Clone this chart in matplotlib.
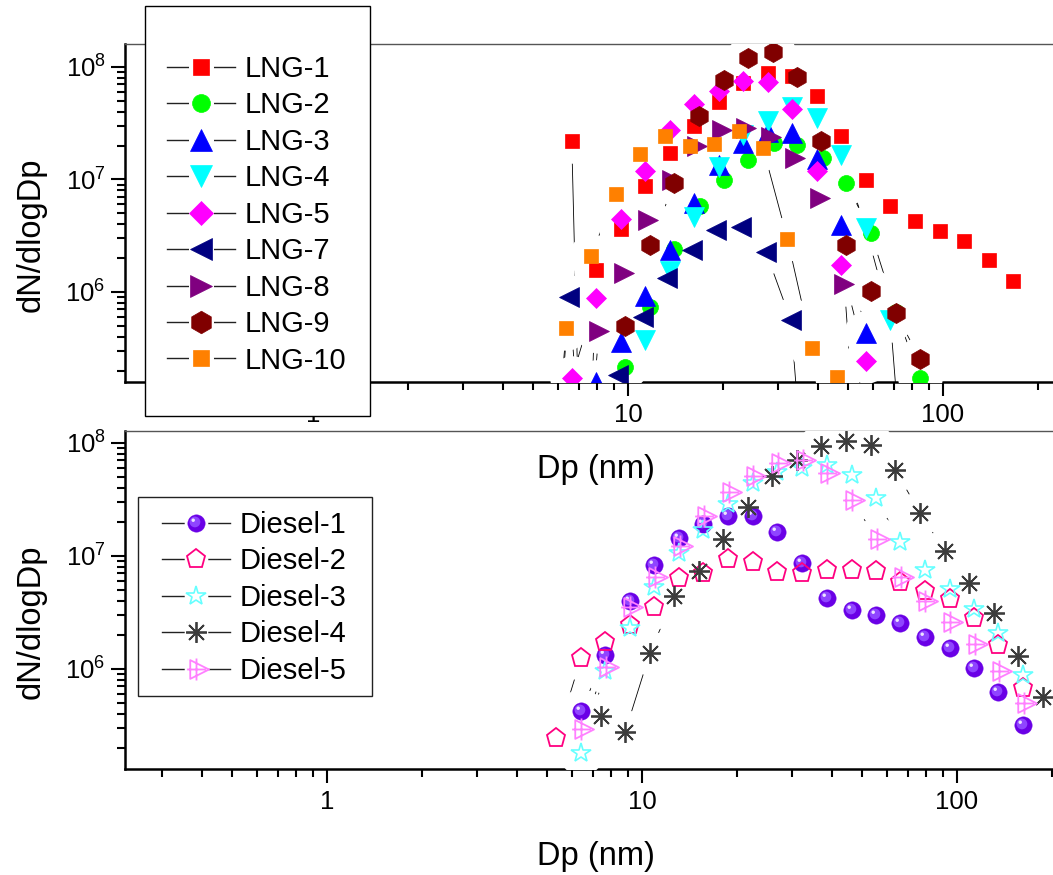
import numpy as np
import matplotlib
matplotlib.use('Agg')
import matplotlib.pyplot as plt
from matplotlib.lines import Line2D
from matplotlib.legend_handler import HandlerTuple
from matplotlib.patches import Rectangle
from matplotlib.path import Path
from matplotlib.ticker import LogLocator, NullFormatter, FuncFormatter

plt.rcParams['font.family'] = ['Liberation Sans', 'DejaVu Sans']
plt.rcParams['mathtext.fontset'] = 'custom'
plt.rcParams['mathtext.rm'] = 'Liberation Sans'
plt.rcParams['mathtext.it'] = 'Liberation Sans:italic'
plt.rcParams['mathtext.bf'] = 'Liberation Sans:bold'

# ---------------- data: LNG (top panel) ----------------
lng1_dp = [6.63, 7.25, 7.93, 9.48, 11.32, 13.56, 16.24, 19.41, 23.23, 27.8, 33.24, 39.8, 47.6, 56.9, 68.1, 81.5, 97.5, 116.9, 140.0, 167.4]
lng1_n = [2.21e7, 1e3, 1.57e6, 3.63e6, 8.8e6, 1.72e7, 3.0e7, 4.92e7, 7.16e7, 8.8e7, 8.3e7, 5.5e7, 2.45e7, 9.9e6, 5.85e6, 4.25e6, 3.46e6, 2.82e6, 1.91e6, 1.24e6]

lng2_dp = [9.80, 11.75, 14.03, 16.93, 20.15, 24.04, 28.98, 34.5, 41.5, 49.4, 59.1, 70.8, 84.7]
lng2_n = [2.17e5, 7.31e5, 2.43e6, 5.8e6, 9.9e6, 1.49e7, 2.12e7, 2.03e7, 1.56e7, 9.4e6, 3.32e6, 6.68e5, 1.73e5]

lng3_dp = [7.93, 9.48, 11.32, 13.56, 16.24, 19.41, 23.23, 27.8, 33.24, 39.8, 47.6, 56.9, 68.1]
lng3_n = [1.6e5, 3.56e5, 9.3e5, 2.38e6, 6.14e6, 1.35e7, 2.13e7, 2.62e7, 2.59e7, 1.51e7, 3.94e6, 4.35e5, 1e3]

lng4_dp = [9.48, 11.32, 13.56, 16.24, 19.41, 23.23, 27.8, 33.24, 39.8, 47.6, 56.9, 68.1, 81.5]
lng4_n = [1e3, 3.74e5, 1.54e6, 4.67e6, 1.3e7, 2.46e7, 3.31e7, 4.37e7, 3.5e7, 1.65e7, 3.68e6, 5.64e5, 1e3]

lng5_dp = [6.63, 7.93, 9.48, 11.32, 13.56, 16.24, 19.41, 23.23, 27.8, 33.24, 39.8, 47.6, 56.9]
lng5_n = [1.71e5, 8.9e5, 4.46e6, 1.18e7, 2.77e7, 4.69e7, 6.12e7, 7.5e7, 7.4e7, 4.22e7, 1.19e7, 1.74e6, 2.44e5]

lng7_dp = [5.44, 6.51, 7.79, 9.29, 11.14, 13.35, 15.96, 19.1, 22.85, 27.4, 32.9, 39.3]
lng7_n = [1e3, 9.1e5, 1e3, 1.83e5, 5.97e5, 1.32e6, 2.36e6, 3.56e6, 3.8e6, 2.28e6, 5.58e5, 1e3]

lng8_dp = [6.76, 8.09, 9.68, 11.57, 13.83, 16.56, 19.82, 23.7, 28.38, 33.96, 40.6, 48.6, 58.2]
lng8_n = [1e3, 4.5e5, 1.49e6, 4.37e6, 9.9e6, 1.99e7, 2.78e7, 2.84e7, 2.4e7, 1.56e7, 6.8e6, 1.18e6, 1e3]

lng9_dp = [8.19, 9.80, 11.75, 14.03, 16.84, 20.15, 24.04, 28.8, 34.4, 41.1, 49.3, 58.9, 70.8, 84.7]
lng9_n = [1e3, 4.95e5, 2.62e6, 9.3e6, 3.67e7, 7.66e7, 1.19e8, 1.36e8, 8.15e7, 2.21e7, 2.59e6, 1.02e6, 6.47e5, 2.52e5]

lng10_dp = [5.33, 6.37, 7.63, 9.14, 10.94, 13.11, 15.69, 18.75, 22.44, 26.83, 32.06, 38.43, 45.97]
lng10_n = [1e3, 4.75e5, 2.1e6, 7.5e6, 1.67e7, 2.42e7, 1.99e7, 2.07e7, 2.68e7, 1.92e7, 2.98e6, 3.16e5, 1.75e5]

# ---------------- data: Diesel (bottom panel) ----------------
d1_dp = [5.35, 6.40, 7.65, 9.16, 10.93, 13.09, 15.66, 18.78, 22.48, 26.92, 32.28, 38.65, 46.3, 55.2, 66.1, 79.1, 94.8, 113.0, 135.3, 162.1]
d1_n = [1e3, 4.25e5, 1.32e6, 4.0e6, 8.32e6, 1.44e7, 1.91e7, 2.26e7, 2.25e7, 1.64e7, 8.6e6, 4.23e6, 3.33e6, 3.0e6, 2.57e6, 1.93e6, 1.52e6, 1.01e6, 6.3e5, 3.19e5]

d2_dp = [5.35, 6.40, 7.65, 9.16, 10.93, 13.09, 15.66, 18.78, 22.48, 26.92, 32.28, 38.65, 46.3, 55.2, 66.1, 79.1, 94.8, 113.0, 135.3, 162.1]
d2_n = [2.44e5, 1.24e6, 1.73e6, 2.45e6, 3.54e6, 6.35e6, 7.14e6, 9.44e6, 8.9e6, 7.26e6, 7.08e6, 7.52e6, 7.52e6, 7.41e6, 5.93e6, 4.93e6, 4.14e6, 2.81e6, 1.63e6, 6.75e5]

d3_dp = [5.35, 6.40, 7.65, 9.16, 10.93, 13.09, 15.66, 18.78, 22.48, 26.92, 32.28, 38.65, 46.3, 55.2, 66.1, 79.1, 94.8, 113.0, 135.3, 162.1]
d3_n = [1e3, 1.8e5, 9.5e5, 2.29e6, 5.35e6, 1.07e7, 1.7e7, 2.88e7, 4.4e7, 5.48e7, 5.97e7, 6.38e7, 5.21e7, 3.24e7, 1.34e7, 7.52e6, 5.07e6, 3.37e6, 2.07e6, 8.85e5]

d4_dp = [6.18, 7.39, 8.84, 10.6, 12.68, 15.19, 18.12, 21.69, 25.95, 31.1, 37.06, 44.4, 53.2, 63.7, 76.4, 91.4, 109.0, 130.6, 156.4, 187.4]
d4_n = [1e3, 3.84e5, 2.77e5, 1.39e6, 4.43e6, 7.37e6, 1.41e7, 2.73e7, 5.07e7, 7.07e7, 9.47e7, 1.05e8, 9.6e7, 5.77e7, 2.39e7, 1.11e7, 5.8e6, 3.15e6, 1.29e6, 5.69e5]

d5_dp = [5.37, 6.42, 7.69, 9.18, 11.0, 13.2, 15.74, 18.87, 22.56, 27.04, 32.36, 38.76, 46.4, 55.6, 66.2, 79.4, 95.1, 113.9, 136.4, 163.4]
d5_n = [1e3, 2.96e5, 1.05e6, 3.52e6, 6.45e6, 1.22e7, 2.28e7, 3.67e7, 5.07e7, 6.65e7, 7.07e7, 5.46e7, 3.13e7, 1.41e7, 6.48e6, 4.02e6, 2.62e6, 1.66e6, 9.66e5, 4.97e5]

lng_labels = ['LNG-1', 'LNG-2', 'LNG-3', 'LNG-4', 'LNG-5', 'LNG-7', 'LNG-8', 'LNG-9', 'LNG-10']
diesel_labels = ['Diesel-1', 'Diesel-2', 'Diesel-3', 'Diesel-4', 'Diesel-5']
x_tick_values = [1, 10, 100]
y_tick_values = [1e6, 1e7, 1e8]

# ---------------- custom markers ----------------
def path_with_frame(paths):
    frame = Path([(-1.0, -1.0), (1.0, 1.0)], [Path.MOVETO, Path.MOVETO])
    return Path.make_compound_path(frame, *paths)

tri_plus = Path(
    [(1.0, 0.0), (-0.5, 0.75), (-0.5, -0.75), (1.0, 0.0),
     (-0.75, 0.0), (0.75, 0.0),
     (0.0, -0.88), (0.0, 0.88)],
    [Path.MOVETO, Path.LINETO, Path.LINETO, Path.CLOSEPOLY,
     Path.MOVETO, Path.LINETO,
     Path.MOVETO, Path.LINETO])

sphere_mid = path_with_frame([Path.circle((-0.18, 0.18), 0.62)])
sphere_hi = path_with_frame([Path.circle((-0.38, 0.38), 0.2)])

# ---------------- figure ----------------
W, H = 1053, 875
fig = plt.figure(figsize=(W / 100, H / 100), dpi=100)
ax1 = fig.add_axes([125 / W, 1 - 382 / H, 942 / W, 338 / H])
ax2 = fig.add_axes([125 / W, 1 - 769 / H, 942 / W, 338 / H])
ax2.patch.set_visible(False)


def sci_fmt(v, pos):
    e = int(round(np.log10(v)))
    return r'$\mathregular{10^{%d}}$' % e


def style_axes(ax, xlim, ylim):
    ax.set_xscale('log')
    ax.set_yscale('log')
    ax.set_xlim(*xlim)
    ax.set_ylim(*ylim)
    ax.xaxis.set_major_locator(plt.FixedLocator(x_tick_values))
    ax.xaxis.set_minor_locator(LogLocator(base=10, subs=np.arange(2, 10), numticks=20))
    ax.xaxis.set_major_formatter(FuncFormatter(lambda v, p: '%g' % v))
    ax.xaxis.set_minor_formatter(NullFormatter())
    ax.yaxis.set_major_locator(plt.FixedLocator(y_tick_values))
    ax.yaxis.set_minor_locator(LogLocator(base=10, subs=np.arange(2, 10), numticks=20))
    ax.yaxis.set_major_formatter(FuncFormatter(sci_fmt))
    ax.yaxis.set_minor_formatter(NullFormatter())
    for s in ['left', 'bottom']:
        ax.spines[s].set_linewidth(1.8)
        ax.spines[s].set_color('black')
    ax.spines['right'].set_visible(False)
    ax.spines['top'].set_linewidth(1.0)
    ax.spines['top'].set_color('#555555')
    ax.tick_params(which='major', direction='out', length=10, width=1.5, labelsize=18.5,
                   top=False, right=False, colors='black')
    ax.tick_params(which='minor', direction='out', length=5.5, width=1.5, top=False, right=False)
    ax.tick_params(axis='x', which='major', pad=5)
    ax.tick_params(axis='y', which='major', pad=4)
    ax.set_ylabel('dN/dlogDp', fontsize=23.5)
    ax.set_xlabel('Dp (nm)', fontsize=23.5)
    ax.yaxis.set_label_coords(-0.083, 0.435)


style_axes(ax1, (0.2531, 247.6), (1.585e5, 1.6e8))
style_axes(ax2, (0.2284, 223.5), (1.303e5, 1.276e8))
ax1.xaxis.set_label_coords(0.5, -0.214)
ax2.xaxis.set_label_coords(0.5, -0.214)

LW = 0.6
HALO = 32


def draw_series(ax, dp, n, zi, layers):
    ax.plot(dp, n, '-', color='black', lw=LW, zorder=2)
    ax.plot(dp, n, ls='none', marker='o', ms=HALO, mfc='white', mec='white', mew=0, zorder=3)
    for k, kw in enumerate(layers):
        ax.plot(dp, n, ls='none', zorder=4 + zi * 0.1 + k * 0.01, **kw)


lng_data = [(lng1_dp, lng1_n), (lng2_dp, lng2_n), (lng3_dp, lng3_n), (lng4_dp, lng4_n),
            (lng5_dp, lng5_n), (lng7_dp, lng7_n), (lng8_dp, lng8_n), (lng9_dp, lng9_n),
            (lng10_dp, lng10_n)]
lng_style = [('s', '#FF0000', 10.5), ('o', '#00FF00', 11.5), ('^', '#0000FF', 14),
             ('v', '#00FFFF', 14), ('D', '#FF00FF', 10.5), ('<', '#000080', 14),
             ('>', '#800080', 14), ('h', '#800000', 14.5), ('s', '#FF8000', 10.5)]

hmap = {tuple: HandlerTuple(ndivide=1, pad=0)}

top_handles = []
for i, ((dp, n), (m, c, ms)) in enumerate(zip(lng_data, lng_style)):
    layer = dict(marker=m, ms=ms, mfc=c, mec=c, mew=0.5)
    draw_series(ax1, dp, n, i, [layer])
    lg = dict(layer)
    lg['ms'] = ms * 1.12
    top_handles.append((Line2D([], [], color='#222222', lw=1.0),
                        Line2D([], [], ls='none', marker='o', ms=18, mfc='white', mec='white', mew=0),
                        Line2D([], [], ls='none', **lg)))

d_data = [(d1_dp, d1_n), (d2_dp, d2_n), (d3_dp, d3_n), (d4_dp, d4_n), (d5_dp, d5_n)]
d_layers = [
    [dict(marker='o', ms=12.5, mfc='#6A00E6', mec='#6A00E6', mew=0.3),
     dict(marker=sphere_mid, ms=12.5, mfc='#8F45FF', mec='none', mew=0),
     dict(marker=sphere_hi, ms=12.5, mfc='#EDE4FF', mec='none', mew=0)],
    [dict(marker='p', ms=14, mfc='none', mec='#FF0080', mew=1.3)],
    [dict(marker='*', ms=15, mfc='none', mec='#66FFFF', mew=1.2)],
    [dict(marker=(8, 2, 0), ms=15, mfc='none', mec='#3C3C3C', mew=1.3)],
    [dict(marker=tri_plus, ms=18, mfc='none', mec='#FF80FF', mew=1.3)],
]
bot_handles = []
for i, ((dp, n), layers) in enumerate(zip(d_data, d_layers)):
    draw_series(ax2, dp, n, i, layers)
    hs = [Line2D([], [], color='#222222', lw=1.0),
          Line2D([], [], ls='none', marker='o', ms=17, mfc='white', mec='white', mew=0)]
    for kw in layers:
        hs.append(Line2D([], [], ls='none', **kw))
    bot_handles.append(tuple(hs))

# ---------------- legends ----------------
rect1 = Rectangle((145 / W, 1 - 416 / H), 225 / W, 410 / H, transform=fig.transFigure,
                  facecolor='white', edgecolor='black', lw=1.0, zorder=4)
fig.patches.append(rect1)
rect2 = Rectangle((138 / W, 1 - 696 / H), 234 / W, 199 / H, transform=fig.transFigure,
                  facecolor='white', edgecolor='#222222', lw=1.0, zorder=4)
fig.patches.append(rect2)

leg_kw = dict(loc='upper left', frameon=False, borderpad=0, borderaxespad=0,
              fontsize=21, handlelength=2.33, handletextpad=0.33, labelspacing=0.29,
              handler_map=hmap)
leg1 = fig.legend(top_handles, lng_labels, bbox_to_anchor=(167 / W, 1 - 55 / H), **leg_kw)
leg1.set_zorder(5)
leg2 = fig.legend(bot_handles, diesel_labels, bbox_to_anchor=(162 / W, 1 - 511 / H), **leg_kw)
leg2.set_zorder(5)

fig.savefig('out.png', dpi=100)
